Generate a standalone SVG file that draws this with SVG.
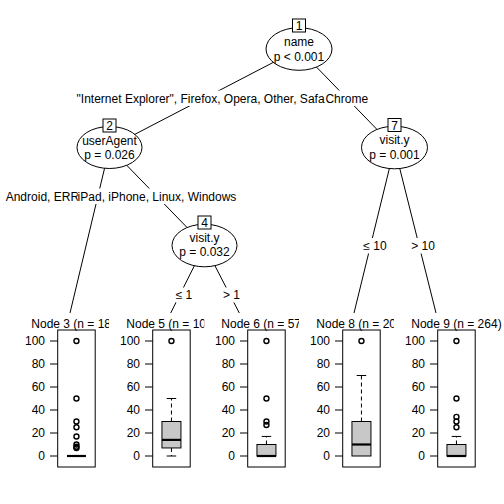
<svg xmlns="http://www.w3.org/2000/svg" width="504" height="504" viewBox="0 0 504 504">
<style>
text{font-family:"Liberation Sans",Arial,sans-serif;font-size:12px;fill:#000}
.mid{text-anchor:middle}
.end{text-anchor:end}
.edge{stroke:#000;stroke-width:1;fill:none}
.lbg{fill:#fff;stroke:none}
.inner{fill:#fff;stroke:#000;stroke-width:1}
.idbox{fill:#fff;stroke:#000;stroke-width:1}
.frame{fill:none;stroke:#000;stroke-width:1}
.tick{stroke:#000;stroke-width:1}
.bx{fill:#c8c8c8;stroke:#000;stroke-width:1}
.med{stroke:#000;stroke-width:2.2}
.wh{stroke:#000;stroke-width:1;stroke-dasharray:4,3}
.cap{stroke:#000;stroke-width:1}
.out{fill:none;stroke:#000;stroke-width:1.4}
</style>
<defs>
<clipPath id="c3"><rect x="0" y="300" width="109" height="40"/></clipPath>
<clipPath id="c5"><rect x="109" y="300" width="95.3" height="40"/></clipPath>
<clipPath id="c6"><rect x="204.3" y="300" width="94.7" height="40"/></clipPath>
<clipPath id="c8"><rect x="299" y="300" width="95" height="40"/></clipPath>
</defs>
<rect width="504" height="504" fill="#fff"/>
<g id="connectors">
<line class="edge" x1="299" y1="49" x2="109.5" y2="147.5"/>
<line class="edge" x1="299" y1="49" x2="394.5" y2="147.5"/>
<line class="edge" x1="109.5" y1="147.5" x2="70" y2="313"/>
<line class="edge" x1="109.5" y1="147.5" x2="204.5" y2="245.5"/>
<line class="edge" x1="204.5" y1="245.5" x2="170.7" y2="313"/>
<line class="edge" x1="204.5" y1="245.5" x2="239.3" y2="313"/>
<line class="edge" x1="394.5" y1="147.5" x2="354" y2="313"/>
<line class="edge" x1="394.5" y1="147.5" x2="436" y2="313"/>
</g>
<g id="edge-labels">
<rect class="lbg" x="76" y="90.5" width="256" height="15.5"/>
<text x="76.6" y="102.8">"Internet Explorer", Firefox, Opera, Other, Safa</text>
<rect class="lbg" x="325.2" y="90.5" width="43.3" height="15.5"/>
<text class="mid" x="346.75" y="102.8">Chrome</text>
<rect class="lbg" x="4" y="188.5" width="76" height="15.5"/>
<text x="5.7" y="200.5">Android, ERR</text>
<rect class="lbg" x="77.7" y="188.5" width="158.6" height="15.5"/>
<text class="mid" x="157" y="200.5">iPad, iPhone, Linux, Windows</text>
<rect class="lbg" x="175.5" y="287.5" width="17" height="15"/>
<text class="mid" x="184" y="299.3">≤ 1</text>
<rect class="lbg" x="222.5" y="287.5" width="18" height="15"/>
<text class="mid" x="231.5" y="299.3">&gt; 1</text>
<rect class="lbg" x="363" y="238" width="24" height="15.5"/>
<text class="mid" x="375" y="250">≤ 10</text>
<rect class="lbg" x="411" y="238" width="24" height="15.5"/>
<text class="mid" x="423" y="250">&gt; 10</text>
</g>
<g id="node1">
<ellipse class="inner" cx="299" cy="49" rx="33" ry="21.3"/>
<rect class="idbox" x="292.5" y="19" width="13" height="13"/>
<text class="mid" x="299" y="30.3">1</text>
<text class="mid" x="299" y="46.3">name</text>
<text class="mid" x="299" y="60.8">p &lt; 0.001</text>
</g>
<g id="node2">
<ellipse class="inner" cx="109.5" cy="147.5" rx="32.5" ry="21"/>
<rect class="idbox" x="103" y="119" width="13" height="13"/>
<text class="mid" x="109.5" y="130.3">2</text>
<text class="mid" x="109.5" y="144.5">userAgent</text>
<text class="mid" x="109.5" y="159.2">p = 0.026</text>
</g>
<g id="node4">
<ellipse class="inner" cx="204.5" cy="245.5" rx="32.5" ry="21.3"/>
<rect class="idbox" x="198" y="216" width="13" height="13"/>
<text class="mid" x="204.5" y="227.3">4</text>
<text class="mid" x="204.5" y="241.8">visit.y</text>
<text class="mid" x="204.5" y="256.3">p = 0.032</text>
</g>
<g id="node7">
<ellipse class="inner" cx="394.5" cy="147.5" rx="33" ry="21.3"/>
<rect class="idbox" x="388" y="118.5" width="13" height="13"/>
<text class="mid" x="394.5" y="129.8">7</text>
<text class="mid" x="394.5" y="144.3">visit.y</text>
<text class="mid" x="394.5" y="159">p = 0.001</text>
</g>
<g id="node3">
<text x="31.3" y="327.5" clip-path="url(#c3)">Node 3 (n = 18</text>
<rect class="frame" x="57.7" y="330" width="37.5" height="137"/>
<g class="tick"><line x1="50" y1="456" x2="57.7" y2="456"/><line x1="50" y1="433" x2="57.7" y2="433"/><line x1="50" y1="410" x2="57.7" y2="410"/><line x1="50" y1="387" x2="57.7" y2="387"/><line x1="50" y1="364" x2="57.7" y2="364"/><line x1="50" y1="341" x2="57.7" y2="341"/></g>
<text class="end" x="45" y="460.3">0</text><text class="end" x="45" y="437.3">20</text><text class="end" x="45" y="414.3">40</text><text class="end" x="45" y="391.3">60</text><text class="end" x="45" y="368.3">80</text><text class="end" x="45" y="345.3">100</text>
<rect class="bx" x="66.95" y="456" width="19" height="0"/>
<line class="med" x1="66.95" y1="456" x2="85.95" y2="456"/>
<circle class="out" cx="76.45" cy="341" r="2.5"/>
<circle class="out" cx="76.45" cy="398.5" r="2.5"/>
<circle class="out" cx="76.45" cy="421.5" r="2.5"/>
<circle class="out" cx="76.45" cy="427.25" r="2.5"/>
<circle class="out" cx="76.45" cy="436.45" r="2.5"/>
<circle class="out" cx="76.45" cy="444.5" r="2.5"/>
<circle class="out" cx="76.45" cy="446.8" r="2.5"/>
<circle class="out" cx="76.45" cy="447.95" r="2.5"/>
</g>
<g id="node5">
<text x="126.3" y="327.5" clip-path="url(#c5)">Node 5 (n = 10</text>
<rect class="frame" x="152.7" y="330" width="37.5" height="137"/>
<g class="tick"><line x1="145" y1="456" x2="152.7" y2="456"/><line x1="145" y1="433" x2="152.7" y2="433"/><line x1="145" y1="410" x2="152.7" y2="410"/><line x1="145" y1="387" x2="152.7" y2="387"/><line x1="145" y1="364" x2="152.7" y2="364"/><line x1="145" y1="341" x2="152.7" y2="341"/></g>
<text class="end" x="140" y="460.3">0</text><text class="end" x="140" y="437.3">20</text><text class="end" x="140" y="414.3">40</text><text class="end" x="140" y="391.3">60</text><text class="end" x="140" y="368.3">80</text><text class="end" x="140" y="345.3">100</text>
<line class="wh" x1="171.45" y1="421.5" x2="171.45" y2="398.5"/>
<line class="wh" x1="171.45" y1="447.95" x2="171.45" y2="456"/>
<line class="cap" x1="166.7" y1="398.5" x2="176.2" y2="398.5"/>
<line class="cap" x1="166.7" y1="456" x2="176.2" y2="456"/>
<rect class="bx" x="161.95" y="421.5" width="19" height="26.45"/>
<line class="med" x1="161.95" y1="439.9" x2="180.95" y2="439.9"/>
<circle class="out" cx="171.45" cy="341" r="2.5"/>
</g>
<g id="node6">
<text x="221.3" y="327.5" clip-path="url(#c6)">Node 6 (n = 57</text>
<rect class="frame" x="247.7" y="330" width="37.5" height="137"/>
<g class="tick"><line x1="240" y1="456" x2="247.7" y2="456"/><line x1="240" y1="433" x2="247.7" y2="433"/><line x1="240" y1="410" x2="247.7" y2="410"/><line x1="240" y1="387" x2="247.7" y2="387"/><line x1="240" y1="364" x2="247.7" y2="364"/><line x1="240" y1="341" x2="247.7" y2="341"/></g>
<text class="end" x="235" y="460.3">0</text><text class="end" x="235" y="437.3">20</text><text class="end" x="235" y="414.3">40</text><text class="end" x="235" y="391.3">60</text><text class="end" x="235" y="368.3">80</text><text class="end" x="235" y="345.3">100</text>
<line class="wh" x1="266.45" y1="444.5" x2="266.45" y2="436.45"/>
<line class="cap" x1="261.7" y1="436.45" x2="271.2" y2="436.45"/>
<rect class="bx" x="256.95" y="444.5" width="19" height="11.5"/>
<line class="med" x1="256.95" y1="456" x2="275.95" y2="456"/>
<circle class="out" cx="266.45" cy="341" r="2.5"/>
<circle class="out" cx="266.45" cy="398.5" r="2.5"/>
<circle class="out" cx="266.45" cy="421.5" r="2.5"/>
<circle class="out" cx="266.45" cy="424.95" r="2.5"/>
</g>
<g id="node8">
<text x="316.3" y="327.5" clip-path="url(#c8)">Node 8 (n = 20</text>
<rect class="frame" x="342.7" y="330" width="37.5" height="137"/>
<g class="tick"><line x1="335" y1="456" x2="342.7" y2="456"/><line x1="335" y1="433" x2="342.7" y2="433"/><line x1="335" y1="410" x2="342.7" y2="410"/><line x1="335" y1="387" x2="342.7" y2="387"/><line x1="335" y1="364" x2="342.7" y2="364"/><line x1="335" y1="341" x2="342.7" y2="341"/></g>
<text class="end" x="330" y="460.3">0</text><text class="end" x="330" y="437.3">20</text><text class="end" x="330" y="414.3">40</text><text class="end" x="330" y="391.3">60</text><text class="end" x="330" y="368.3">80</text><text class="end" x="330" y="345.3">100</text>
<line class="wh" x1="361.45" y1="421.5" x2="361.45" y2="375.5"/>
<line class="cap" x1="356.7" y1="375.5" x2="366.2" y2="375.5"/>
<rect class="bx" x="351.95" y="421.5" width="19" height="34.5"/>
<line class="med" x1="351.95" y1="444.5" x2="370.95" y2="444.5"/>
<circle class="out" cx="361.45" cy="341" r="2.5"/>
</g>
<g id="node9">
<text class="mid" x="456.45" y="327.5">Node 9 (n = 264)</text>
<rect class="frame" x="437.7" y="330" width="37.5" height="137"/>
<g class="tick"><line x1="430" y1="456" x2="437.7" y2="456"/><line x1="430" y1="433" x2="437.7" y2="433"/><line x1="430" y1="410" x2="437.7" y2="410"/><line x1="430" y1="387" x2="437.7" y2="387"/><line x1="430" y1="364" x2="437.7" y2="364"/><line x1="430" y1="341" x2="437.7" y2="341"/></g>
<text class="end" x="425" y="460.3">0</text><text class="end" x="425" y="437.3">20</text><text class="end" x="425" y="414.3">40</text><text class="end" x="425" y="391.3">60</text><text class="end" x="425" y="368.3">80</text><text class="end" x="425" y="345.3">100</text>
<line class="wh" x1="456.45" y1="444.5" x2="456.45" y2="436.45"/>
<line class="cap" x1="451.7" y1="436.45" x2="461.2" y2="436.45"/>
<rect class="bx" x="446.95" y="444.5" width="19" height="11.5"/>
<line class="med" x1="446.95" y1="456" x2="465.95" y2="456"/>
<circle class="out" cx="456.45" cy="341" r="2.5"/>
<circle class="out" cx="456.45" cy="398.5" r="2.5"/>
<circle class="out" cx="456.45" cy="416.9" r="2.5"/>
<circle class="out" cx="456.45" cy="421.5" r="2.5"/>
<circle class="out" cx="456.45" cy="427.25" r="2.5"/>
</g>
</svg>
